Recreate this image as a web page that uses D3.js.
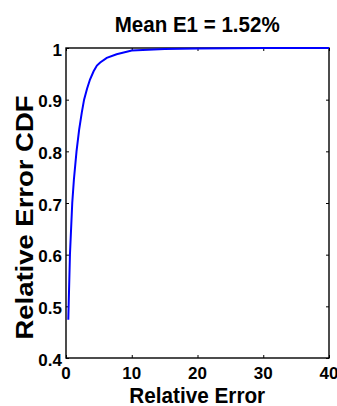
<!DOCTYPE html>
<html>
<head>
<meta charset="utf-8">
<script src="https://cdn.jsdelivr.net/npm/d3@7"></script>
<style>
  body { margin: 0; background: #fff; }
  svg text { font-family: "Liberation Sans", Arial, sans-serif; font-weight: bold; fill: #000; }
</style>
</head>
<body>
<svg id="chart" width="337" height="406"></svg>
<script>
// relative error (x) and cdf (y)
var errX = [0.35, 0.6, 0.95, 1.2, 1.6, 2.0, 2.4, 2.75, 3.2, 3.65, 4.2, 4.7, 5.2, 6.2, 7.7, 10, 15, 20, 30, 40];
var cdfY = [0.474, 0.6, 0.7, 0.745, 0.8, 0.842, 0.875, 0.9, 0.921, 0.939, 0.955, 0.966, 0.972, 0.981, 0.988, 0.995, 0.998, 0.999, 1, 1];
var xTicks = [0, 10, 20, 30, 40];
var yTicks = [0.4, 0.5, 0.6, 0.7, 0.8, 0.9, 1];
var yTickLabels = ["0.4", "0.5", "0.6", "0.7", "0.8", "0.9", "1"];

// plot box (window.top is reserved, so no "top" here)
var boxL = 66, boxR = 329, boxT = 48, boxB = 358;

var svg = d3.select("#chart");

var x = d3.scaleLinear().domain([0, 40]).range([boxL, boxR]);
var y = d3.scaleLinear().domain([0.4, 1]).range([boxB, boxT]);

svg.append("rect")
	.attr("x", boxL).attr("y", boxT)
	.attr("width", boxR - boxL).attr("height", boxB - boxT)
	.attr("fill", "none").attr("stroke", "#000").attr("stroke-width", 1.4);

// inward ticks on all four sides
var bottomAxis = d3.axisBottom(x).tickValues(xTicks).tickSizeInner(-3).tickSizeOuter(0).tickFormat("");
var topAxis = d3.axisTop(x).tickValues(xTicks).tickSizeInner(-3).tickSizeOuter(0).tickFormat("");
var leftAxis = d3.axisLeft(y).tickValues(yTicks).tickSizeInner(-3).tickSizeOuter(0).tickFormat("");
var rightAxis = d3.axisRight(y).tickValues(yTicks).tickSizeInner(-3).tickSizeOuter(0).tickFormat("");

[[bottomAxis, "translate(0," + boxB + ")"], [topAxis, "translate(0," + boxT + ")"],
 [leftAxis, "translate(" + boxL + ",0)"], [rightAxis, "translate(" + boxR + ",0)"]].forEach(function(a){
	var g = svg.append("g").attr("transform", a[1]).call(a[0]);
	g.select(".domain").remove();
	g.selectAll("line").attr("stroke", "#000").attr("stroke-width", 1);
});

// tick labels
svg.selectAll(".xl")
	.data(xTicks)
	.enter()
	.append("text")
	.attr("x", function(d){ return x(d); })
	.attr("y", 378.5)
	.attr("text-anchor", "middle")
	.style("font-size", "17px")
	.text(function(d){ return d; });

svg.selectAll(".yl")
	.data(yTicks)
	.enter()
	.append("text")
	.attr("x", boxL - 4)
	.attr("y", function(d){ return y(d) + 7.5; })
	.attr("text-anchor", "end")
	.style("font-size", "17px")
	.text(function(d, i){ return yTickLabels[i]; });

// curve
var line = d3.line()
	.x(function(d, i){ return x(errX[i]); })
	.y(function(d){ return y(d); });

svg.append("path")
	.datum(cdfY)
	.attr("d", line)
	.attr("fill", "none")
	.attr("stroke", "#0000ff")
	.attr("stroke-width", 2);

// title and labels
svg.append("text")
	.attr("x", 197.2).attr("y", 31.5)
	.attr("text-anchor", "middle")
	.attr("textLength", 165).attr("lengthAdjust", "spacingAndGlyphs")
	.style("font-size", "21.5px")
	.text("Mean E1 = 1.52%");

svg.append("text")
	.attr("x", 197.2).attr("y", 402.5)
	.attr("text-anchor", "middle")
	.attr("textLength", 136).attr("lengthAdjust", "spacingAndGlyphs")
	.style("font-size", "22px")
	.text("Relative Error");

svg.append("text")
	.attr("transform", "translate(33,217.5) rotate(-90)")
	.attr("text-anchor", "middle")
	.attr("textLength", 244).attr("lengthAdjust", "spacingAndGlyphs")
	.style("font-size", "24px")
	.text("Relative Error CDF");
</script>
</body>
</html>
